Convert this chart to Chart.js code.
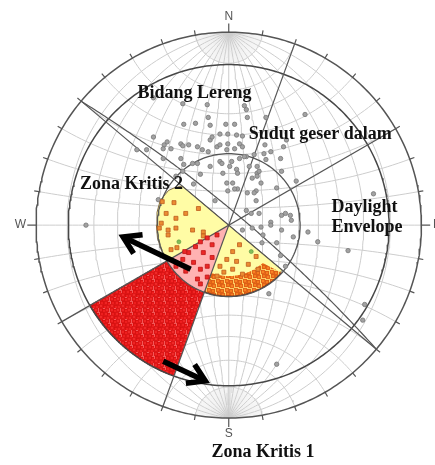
<!DOCTYPE html>
<html><head><meta charset="utf-8">
<script src="https://cdn.jsdelivr.net/npm/chart.js@4.4.1/dist/chart.umd.min.js"></script>
<style>html,body{margin:0;padding:0;background:#fff;}canvas{display:block;}</style>
</head><body>
<canvas id="c" width="435" height="465"></canvas>
<script>
// ---------- data (net units: outer circle radius = 197, x = east, y = north) ----------
const netRadius = 197;
const frictionRadius = 164;
const innerRadius = 73;
const gridStep = 10;
const diameterAzimuths = [130, 20, 60];
const slopePlaneDipDir = 40;
const slopePlaneDip = 82;
const zone1AzFrom = 200;
const zone1AzTo = 240;
const orangeBandAzFrom = 132;
const orangeBandAzTo = 200;
const orangeBandInnerR = 52;
const envelopeAz = [130,140,150,160,170,180,190,200,210,220,230,240,250,260,270,280,290,300,305,310];
const envelopeR  = [71.5,72,72.5,73,73,73,73,73,73,73,73,73,73.5,74,74,74.5,74.5,71,67,62];
const grayPoles = [
[-47,124],[-22,123],[16,122],[18,118],[38,110],[-21,110],[-19,102],[-34,104],[-46,103],[-3,103],[6,103],[19,110],[78,113],[-77,90],[-9,93],[-1,93],[8,92],[-19,87],[-17,90],[-49,83],[-47,81],[-41,82],[-1,83],[11,83],[-32,80],[-12,80],[-9,82],[-27,77],[-2,77],[6,78],[14,80],[18,70],[-59,78],[-67,68],[-49,68],[-21,75],[-84,77],[37,82],[56,80],[53,68],[29,60],[-9,65],[3,65],[-32,63],[-19,60],[-6,53],[8,57],[-47,55],[-29,52],[-54,50],[-2,43],[4,43],[29,53],[33,43],[9,37],[-14,25],[19,33],[58,12],[63,10],
[-77,130],[-66,82],[148,32],[54,55],[69,45],[-146,0],[-63,85],[-67,78],[-94,77],[-72,26],
[-46,62],[-37,63],[-7,63],[1,60],[11,68],[21,60],[-36,42],[9,53],[24,48],[-1,35],[6,37],[28,35],[28,25],[18,15],
[16,70],[26,72],[38,67],[31,55],[29,50],[26,33],[49,38],[23,12],[31,12],[43,3],[43,0],[54,10],[64,5],[54,-5],[24,-3],[33,-2],
[14,-5],[35,-10],[66,-12],[81,-7],[91,-17],[122,-26],[53,-31],[58,-42],[41,-70],[139,-81],[137,-97],[34,-18],[49,-18],[49,-142],
[14,91],[59,87],[36,73],[43,75]
];
const orangePoles = [
[-68,24],[-56,23],[-44,12],[-31,17],[-64,12],[-54,7],[-71,-3],[-62,-5],[-54,-3],[-37,-5],[-26,-7],[-26,-11],[-53,-23],[-59,-25],[-69,2],[-62,-10],
[4,-27],[-9,-42],[-2,-35],[8,-37],[-12,-52],[4,-45],[28,-32],[11,-20],[20,-40],[30,-45],[-5,-48],[14,-50]
];
const redPoles = [
[-34,-22],[-29,-17],[-22,-13],[-17,-20],[-12,-10],[-41,-28],[-26,-28],[-17,-33],[-36,-38],[-29,-45],[-22,-42],[-32,-55],[-22,-53],[-47,-35],[-54,-42],[-44,-47],[-29,-60],[-45,-27]
];
const greenPoles = [[-51,-17],[23,-27]];
const compassLabels = ['N','E','S','W'];
const compassAz = [0, 90, 180, 270];
const arrowTails = [[-39,-45],[-67,-139]];
const arrowTips  = [[-108,-12],[-24,-159]];
const noteTexts = ['Bidang Lereng','Sudut geser dalam','Zona Kritis 2','Daylight','Envelope','Zona Kritis 1'];

// ---------- layout / style ----------
const notePos = [[-35,130,'center'],[93.5,88,'center'],[-99.5,37,'center'],[105,13,'left'],[105,-7,'left'],[35,-237,'center']];
const D2R = Math.PI/180;
const pol = (az, r) => ({x: r*Math.sin(az*D2R), y: r*Math.cos(az*D2R)});
const proj = (lam, phi) => {
  const l = lam*D2R, p = phi*D2R;
  const e = Math.cos(p)*Math.sin(l), n = Math.sin(p), d = Math.cos(p)*Math.cos(l);
  return {x: netRadius*e/(1+d), y: netRadius*n/(1+d)};
};
// texture patterns imitating densely packed square markers
function makePattern(size, bg, squares) {
  const c = document.createElement('canvas'); c.width = size; c.height = size;
  const g = c.getContext('2d');
  g.fillStyle = bg; g.fillRect(0, 0, size, size);
  squares.forEach(s => {
    g.fillStyle = s[3]; g.fillRect(s[0], s[1], s[2], s[2]);
    g.strokeStyle = s[4]; g.lineWidth = 0.8; g.strokeRect(s[0] + 0.5, s[1] + 0.5, s[2] - 1, s[2] - 1);
  });
  return g.createPattern(c, 'repeat');
}
const redTexture = makePattern(11, 'rgb(242,88,88)', [
  [0,0,4,'rgb(240,35,35)','rgb(215,20,20)'],[3,1,4,'rgb(238,30,30)','rgb(212,15,15)'],[6,0,4,'rgb(240,40,40)','rgb(215,20,20)'],
  [1,4,4,'rgb(238,30,30)','rgb(212,15,15)'],[5,4,4,'rgb(240,35,35)','rgb(215,20,20)'],[8,5,4,'rgb(238,30,30)','rgb(212,15,15)'],
  [0,7,4,'rgb(240,40,40)','rgb(215,20,20)'],[4,8,4,'rgb(238,30,30)','rgb(212,15,15)'],[7,8,4,'rgb(240,35,35)','rgb(215,20,20)']
]);
const orangeTexture = makePattern(9, 'rgb(252,205,100)', [
  [0,0,4,'rgb(248,130,35)','rgb(220,95,25)'],[4,1,4,'rgb(246,125,30)','rgb(215,90,20)'],
  [1,4,4,'rgb(246,125,30)','rgb(215,90,20)'],[5,5,4,'rgb(248,130,35)','rgb(220,95,25)']
]);

const GAP = {x: NaN, y: NaN};
const datasets = [];
function addLine(pts, o) {
  datasets.push(Object.assign({data: pts, showLine: true, pointRadius: 0, borderWidth: 1,
    borderColor: '#555', fill: false, tension: 0, clip: false, spanGaps: false}, o));
}
function addPts(pts, o) {
  datasets.push(Object.assign({data: pts.map(p => ({x: p[0], y: p[1]})), showLine: false, clip: false}, o));
}
function arc(r, a0, a1, step) {
  const out = []; const s = a1 >= a0 ? step : -step;
  for (let a = a0; (s > 0 ? a <= a1 + 1e-9 : a >= a1 - 1e-9); a += s) out.push(pol(a, r));
  return out;
}

// grid: minor meridians near poles
{
  const pts = [];
  for (let lam = -88; lam <= 88; lam += 2) {
    if (lam % 10 === 0) continue;
    for (const sgn of [1, -1]) {
      for (let phi = 80; phi <= 90; phi += 2) pts.push(proj(lam, sgn*phi));
      pts.push(GAP);
    }
  }
  addLine(pts, {borderColor: 'rgba(190,190,190,0.45)', borderWidth: 0.4});
}
// grid: meridians and small circles
{
  const pts = [];
  for (let lam = -90 + gridStep; lam < 90; lam += gridStep) {
    for (let phi = -90; phi <= 90; phi += 2) pts.push(proj(lam, phi));
    pts.push(GAP);
  }
  for (let phi = -90 + gridStep; phi < 90; phi += gridStep) {
    for (let lam = -90; lam <= 90; lam += 2) pts.push(proj(lam, phi));
    pts.push(GAP);
  }
  addLine(pts, {borderColor: '#cdcdcd', borderWidth: 1});
}
// yellow daylight envelope
{
  const pts = [{x: 0, y: 0}];
  envelopeAz.forEach((a, i) => pts.push(pol(a, envelopeR[i])));
  pts.push({x: 0, y: 0});
  addLine(pts, {fill: 'shape', backgroundColor: 'rgb(255,252,165)', borderColor: 'rgba(120,95,50,0.9)', borderWidth: 1});
}
// pink zone-1 wedge
{
  const pts = [{x: 0, y: 0}, ...arc(frictionRadius, zone1AzFrom, zone1AzTo, 1), {x: 0, y: 0}];
  addLine(pts, {fill: 'shape', backgroundColor: 'rgb(255,178,178)', borderColor: 'rgba(0,0,0,0)', borderWidth: 0});
}
// dense red critical zone 1
{
  const pts = [...arc(frictionRadius, zone1AzFrom, zone1AzTo, 1), ...arc(innerRadius, zone1AzTo, zone1AzFrom, 2)];
  pts.push(pts[0]);
  addLine(pts, {fill: 'shape', backgroundColor: redTexture, borderColor: 'rgba(0,0,0,0)', borderWidth: 0});
  addLine([pol(zone1AzTo, innerRadius), ...arc(frictionRadius, zone1AzTo, zone1AzFrom, 1)],
    {borderColor: 'rgb(150,20,20)', borderWidth: 1.2, borderDash: [2, 1]});
}
// dense orange band
{
  const pts = [...arc(72.5, orangeBandAzFrom, orangeBandAzTo, 2), ...arc(orangeBandInnerR, orangeBandAzTo, orangeBandAzFrom + 6, 2)];
  pts.push(pts[0]);
  addLine(pts, {fill: 'shape', backgroundColor: orangeTexture, borderColor: 'rgba(0,0,0,0)', borderWidth: 0});
  addLine(arc(72.5, orangeBandAzFrom, orangeBandAzTo, 2), {borderColor: 'rgb(130,50,20)', borderWidth: 1.2});
}
// circles
addLine(arc(netRadius, 0, 360, 1), {borderColor: '#555', borderWidth: 1.5});
addLine(arc(frictionRadius, 0, 360, 1), {borderColor: '#474747', borderWidth: 1.5});
addLine(arc(innerRadius, 0, 360, 2), {borderColor: '#555', borderWidth: 1.3});
// diameters
diameterAzimuths.forEach(a => addLine([pol(a, netRadius), pol(a + 180, netRadius)], {borderColor: '#555', borderWidth: 1.2}));
// slope great circle
{
  const sa = (slopePlaneDipDir - 90)*D2R, dd = slopePlaneDipDir*D2R, dp = slopePlaneDip*D2R;
  const s = [Math.sin(sa), Math.cos(sa), 0];
  const v = [Math.cos(dp)*Math.sin(dd), Math.cos(dp)*Math.cos(dd), Math.sin(dp)];
  const pts = [];
  for (let t = 0; t <= 180; t += 1) {
    const c = Math.cos(t*D2R), si = Math.sin(t*D2R);
    const e = c*s[0] + si*v[0], n = c*s[1] + si*v[1], d = c*s[2] + si*v[2];
    pts.push({x: netRadius*e/(1+d), y: netRadius*n/(1+d)});
  }
  addLine(pts, {borderColor: '#555', borderWidth: 1.2});
}
// ticks
{
  const pts = [];
  for (let a = 0; a < 360; a += 10) {
    const len = compassAz.includes(a) ? 9 : 5;
    pts.push(pol(a, netRadius), pol(a, netRadius + len), GAP);
  }
  addLine(pts, {borderColor: '#555', borderWidth: 1.2});
}
// poles
addPts(grayPoles, {pointRadius: 2.2, pointBackgroundColor: '#a2a2a2', pointBorderColor: '#767676', pointBorderWidth: 0.8});
addPts(orangePoles, {pointStyle: 'rect', pointRadius: 2.8, pointBackgroundColor: 'rgb(235,140,50)', pointBorderColor: 'rgb(190,90,30)', pointBorderWidth: 0.8});
addPts(redPoles, {pointStyle: 'rect', pointRadius: 2.8, pointBackgroundColor: 'rgb(235,40,40)', pointBorderColor: 'rgb(190,20,20)', pointBorderWidth: 0.8});
addPts(greenPoles, {pointRadius: 2, pointBackgroundColor: 'rgb(130,190,90)', pointBorderColor: 'rgb(90,150,60)', pointBorderWidth: 0.6});
// arrows
arrowTails.forEach((t, i) => {
  const tip = arrowTips[i];
  const ang = Math.atan2(t[1] - tip[1], t[0] - tip[0]);
  const hl = 20, ha = 32*D2R;
  addLine([{x: t[0], y: t[1]}, {x: tip[0] + 3*Math.cos(ang), y: tip[1] + 3*Math.sin(ang)}], {borderColor: '#000', borderWidth: 5.5, borderCapStyle: 'butt'});
  addLine([{x: tip[0] + hl*Math.cos(ang + ha), y: tip[1] + hl*Math.sin(ang + ha)}, {x: tip[0], y: tip[1]},
           {x: tip[0] + hl*Math.cos(ang - ha), y: tip[1] + hl*Math.sin(ang - ha)}],
          {borderColor: '#000', borderWidth: 5.5, borderJoinStyle: 'miter', borderCapStyle: 'butt'});
});
datasets.forEach((d, i) => d.order = datasets.length - i);

const textPlugin = {
  id: 'netTexts',
  afterDatasetsDraw(chart) {
    const {ctx} = chart, xs = chart.scales.x, ys = chart.scales.y;
    ctx.save();
    ctx.fillStyle = '#555';
    ctx.font = '12px "Liberation Sans", Arial, sans-serif';
    ctx.textAlign = 'center'; ctx.textBaseline = 'middle';
    compassLabels.forEach((l, i) => {
      const p = pol(compassAz[i], netRadius + 16);
      ctx.fillText(l, xs.getPixelForValue(p.x), ys.getPixelForValue(p.y));
    });
    ctx.fillStyle = '#111';
    ctx.font = 'bold 18px "Liberation Serif", "Times New Roman", serif';
    ctx.textBaseline = 'alphabetic';
    noteTexts.forEach((t, i) => {
      ctx.textAlign = notePos[i][2];
      ctx.fillText(t, xs.getPixelForValue(notePos[i][0]), ys.getPixelForValue(notePos[i][1]));
    });
    ctx.restore();
  }
};

new Chart(document.getElementById('c'), {
  type: 'scatter',
  data: {datasets},
  options: {
    responsive: false, animation: false, events: [],
    layout: {padding: 0},
    plugins: {legend: {display: false}, tooltip: {enabled: false}, filler: {propagate: false}},
    scales: {
      x: {type: 'linear', min: -229, max: 206, display: false},
      y: {type: 'linear', min: -240, max: 225, display: false}
    }
  },
  plugins: [textPlugin]
});
</script>
</body></html>
